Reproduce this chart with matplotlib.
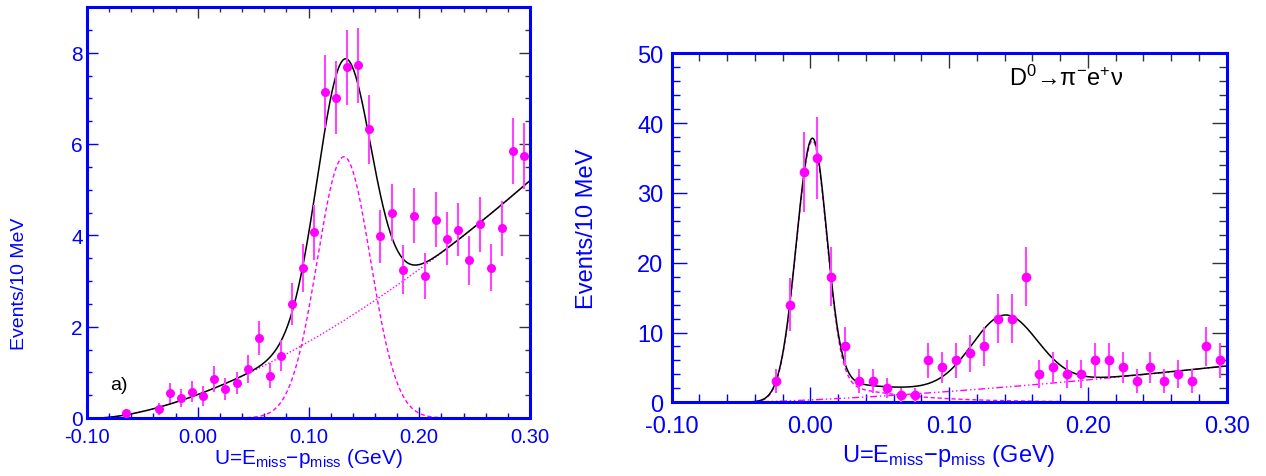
import numpy as np
import matplotlib
matplotlib.use("Agg")
import matplotlib.pyplot as plt
from matplotlib.ticker import MultipleLocator, FormatStrFormatter

plt.rcParams['font.family'] = ['Liberation Sans', 'DejaVu Sans']
plt.rcParams['mathtext.fontset'] = 'custom'
plt.rcParams['mathtext.rm'] = 'Liberation Sans'
plt.rcParams['mathtext.it'] = 'Liberation Sans:italic'

BLUE = "#0000ff"
MAG = "#ff00ff"
ERRC = "#ff44ff"

# panel a) : weighted events per 10 MeV bin
u_a = [-0.065, -0.035, -0.025, -0.015, -0.005, 0.005, 0.015, 0.025, 0.035, 0.045,
       0.055, 0.065, 0.075, 0.085, 0.095, 0.105, 0.115, 0.125, 0.135, 0.145,
       0.155, 0.165, 0.175, 0.185, 0.195, 0.205, 0.215, 0.225, 0.235, 0.245,
       0.255, 0.265, 0.275, 0.285, 0.295]
n_a = [0.10, 0.19, 0.54, 0.44, 0.58, 0.48, 0.85, 0.63, 0.76, 1.07,
       1.75, 0.93, 1.36, 2.49, 3.29, 4.07, 7.14, 7.01, 7.68, 7.72,
       6.32, 3.98, 4.50, 3.25, 4.43, 3.11, 4.34, 3.93, 4.12, 3.45,
       4.24, 3.29, 4.15, 5.84, 5.73]
err_a = [0.10, 0.13, 0.22, 0.19, 0.24, 0.21, 0.29, 0.24, 0.24, 0.30,
         0.38, 0.28, 0.34, 0.46, 0.53, 0.60, 0.80, 0.80, 0.82, 0.83,
         0.75, 0.58, 0.62, 0.53, 0.60, 0.51, 0.60, 0.58, 0.58, 0.54,
         0.60, 0.51, 0.60, 0.72, 0.72]

# fit a): gaussian (pi0) + power-law background
sig_a_mean, sig_a_width, sig_a_height = 0.132, 0.024, 5.72
bkg_a_x0, bkg_a_norm, bkg_a_pow = -0.09, 5.2, 1.58

# panel b) : D0 -> pi- e+ nu, counts per 10 MeV bin
u_b = [-0.025, -0.015, -0.005, 0.005, 0.015, 0.025, 0.035, 0.045, 0.055, 0.065,
       0.075, 0.085, 0.095, 0.105, 0.115, 0.125, 0.135, 0.145, 0.155, 0.165,
       0.175, 0.185, 0.195, 0.205, 0.215, 0.225, 0.235, 0.245, 0.255, 0.265,
       0.275, 0.285, 0.295]
n_b = [3, 14, 33, 35, 18, 8, 3, 3, 2, 1,
       1, 6, 5, 6, 7, 8, 12, 12, 18, 4,
       5, 4, 4, 6, 6, 5, 3, 5, 3, 4,
       3, 8, 6]

# fit b): signal peak with tail, pi0 gaussian, background
sig_b_mean, sig_b_wl, sig_b_wr, sig_b_height = 0.001, 0.0115, 0.0105, 35.4
tail_b_norm, tail_b_slope = 3.82, 0.05
pi0_b_mean, pi0_b_width, pi0_b_height = 0.140, 0.0235, 10.1
bkg_b_x0, bkg_b_end, bkg_b_pow = -0.054, 5.2, 1.45


def gauss(x, m, s, h):
    return h * np.exp(-0.5 * ((x - m) / s) ** 2)


def powbkg(x, x0, norm, p, xend=0.30):
    t = np.clip((x - x0) / (xend - x0), 0, None)
    return norm * t ** p


def style_axes(ax, xmaj, xmin, ymaj, ymin, ylim, lmaj, lmin, xfs, yfs, xpad, ypad):
    ax.set_xlim(-0.10, 0.30)
    ax.set_ylim(*ylim)
    ax.xaxis.set_major_locator(MultipleLocator(xmaj))
    ax.xaxis.set_minor_locator(MultipleLocator(xmin))
    ax.yaxis.set_major_locator(MultipleLocator(ymaj))
    ax.yaxis.set_minor_locator(MultipleLocator(ymin))
    ax.xaxis.set_major_formatter(FormatStrFormatter('%.2f'))
    for s in ax.spines.values():
        s.set_color(BLUE)
        s.set_linewidth(2.2)
    ax.tick_params(which='both', direction='in', color=BLUE, width=1.0)
    ax.tick_params(which='major', length=lmaj)
    ax.tick_params(which='minor', length=lmin)
    ax.tick_params(axis='x', labelcolor=BLUE, labelsize=xfs, pad=xpad)
    ax.tick_params(axis='y', labelcolor=BLUE, labelsize=yfs, pad=ypad)
    # dark ticks on the top and right edges
    top = ax.secondary_xaxis('top')
    top.xaxis.set_major_locator(MultipleLocator(xmaj))
    top.xaxis.set_minor_locator(MultipleLocator(xmin))
    right = ax.secondary_yaxis('right')
    right.yaxis.set_major_locator(MultipleLocator(ymaj))
    right.yaxis.set_minor_locator(MultipleLocator(ymin))
    for sec in (top, right):
        for s in sec.spines.values():
            s.set_visible(False)
        sec.tick_params(which='both', direction='in', color='#333333', width=1.0,
                        labeltop=False, labelright=False)
        sec.tick_params(which='major', length=lmaj)
        sec.tick_params(which='minor', length=lmin)


fig = plt.figure(figsize=(12.66, 4.77), dpi=100)

# ---------- left panel ----------
ax1 = fig.add_axes([87 / 1266, 1 - 419 / 477, 443 / 1266, 411 / 477])
xx = np.linspace(-0.10, 0.30, 800)
g_a = gauss(xx, sig_a_mean, sig_a_width, sig_a_height)
b_a = powbkg(xx, bkg_a_x0, bkg_a_norm, bkg_a_pow)
ax1.plot(xx, g_a, color=MAG, lw=1.0, ls=(0, (3, 2)))
ax1.plot(xx, b_a, color=MAG, lw=1.0, ls=(0, (1, 1.5)))
ax1.plot(xx, g_a + b_a, color='black', lw=1.1)
ax1.errorbar(u_a, n_a, yerr=err_a, fmt='o', color=MAG, ecolor=ERRC, elinewidth=1.5,
             ms=6.5, mec='none', capsize=0, zorder=3)
ax1.text(-0.079, 0.74, "a)", fontsize=14, color='black', va='center')
style_axes(ax1, 0.1, 0.02, 2, 0.5, (0, 9), 8, 3.5, 14.5, 15, 6.5, 3)

# ---------- right panel ----------
ax2 = fig.add_axes([671.7 / 1266, 1 - 403.3 / 477, 555 / 1266, 349 / 477])
core = np.where(xx < sig_b_mean,
                gauss(xx, sig_b_mean, sig_b_wl, sig_b_height),
                gauss(xx, sig_b_mean, sig_b_wr, sig_b_height))
tail = tail_b_norm * np.exp(-xx / tail_b_slope) / (1 + np.exp(-(xx - 0.0) / 0.005))
s_b = core + tail
p_b = gauss(xx, pi0_b_mean, pi0_b_width, pi0_b_height)
b_b = powbkg(xx, bkg_b_x0, bkg_b_end, bkg_b_pow)
ax2.plot(xx, s_b, color=MAG, lw=1.0, ls=(0, (3, 2)))
ax2.plot(xx, b_b, color=MAG, lw=1.0, ls=(0, (5, 2, 1, 2, 1, 2)))
ax2.plot(xx, s_b + p_b + b_b, color='black', lw=1.1)
ax2.errorbar(u_b, n_b, yerr=np.sqrt(n_b), fmt='o', color=MAG, ecolor=ERRC,
             elinewidth=1.5, ms=7, mec='none', capsize=0, zorder=3)
ax2.text(0.184, 46.5, "D$^{0}$→π$^{-}$e$^{+}$ν", fontsize=17,
         color='black', ha='center', va='center')
style_axes(ax2, 0.1, 0.02, 10, 2, (0, 50), 11, 5.5, 17, 17, 9, 6)

# axis titles
fig.text(308 / 1266, 1 - 459 / 477, "U=E$_{\\mathrm{miss}}$−p$_{\\mathrm{miss}}$ (GeV)",
         color=BLUE, fontsize=15, ha='center', va='center')
fig.text(20 / 1266, 1 - 284 / 477, "Events/10 MeV", color=BLUE, fontsize=14,
         rotation=90, ha='center', va='center')
fig.text(949 / 1266, 1 - 456 / 477, "U=E$_{\\mathrm{miss}}$−p$_{\\mathrm{miss}}$ (GeV)",
         color=BLUE, fontsize=17, ha='center', va='center')
fig.text(587 / 1266, 1 - 229 / 477, "Events/10 MeV", color=BLUE, fontsize=17,
         rotation=90, ha='center', va='center')

fig.savefig("out.png", dpi=100)
